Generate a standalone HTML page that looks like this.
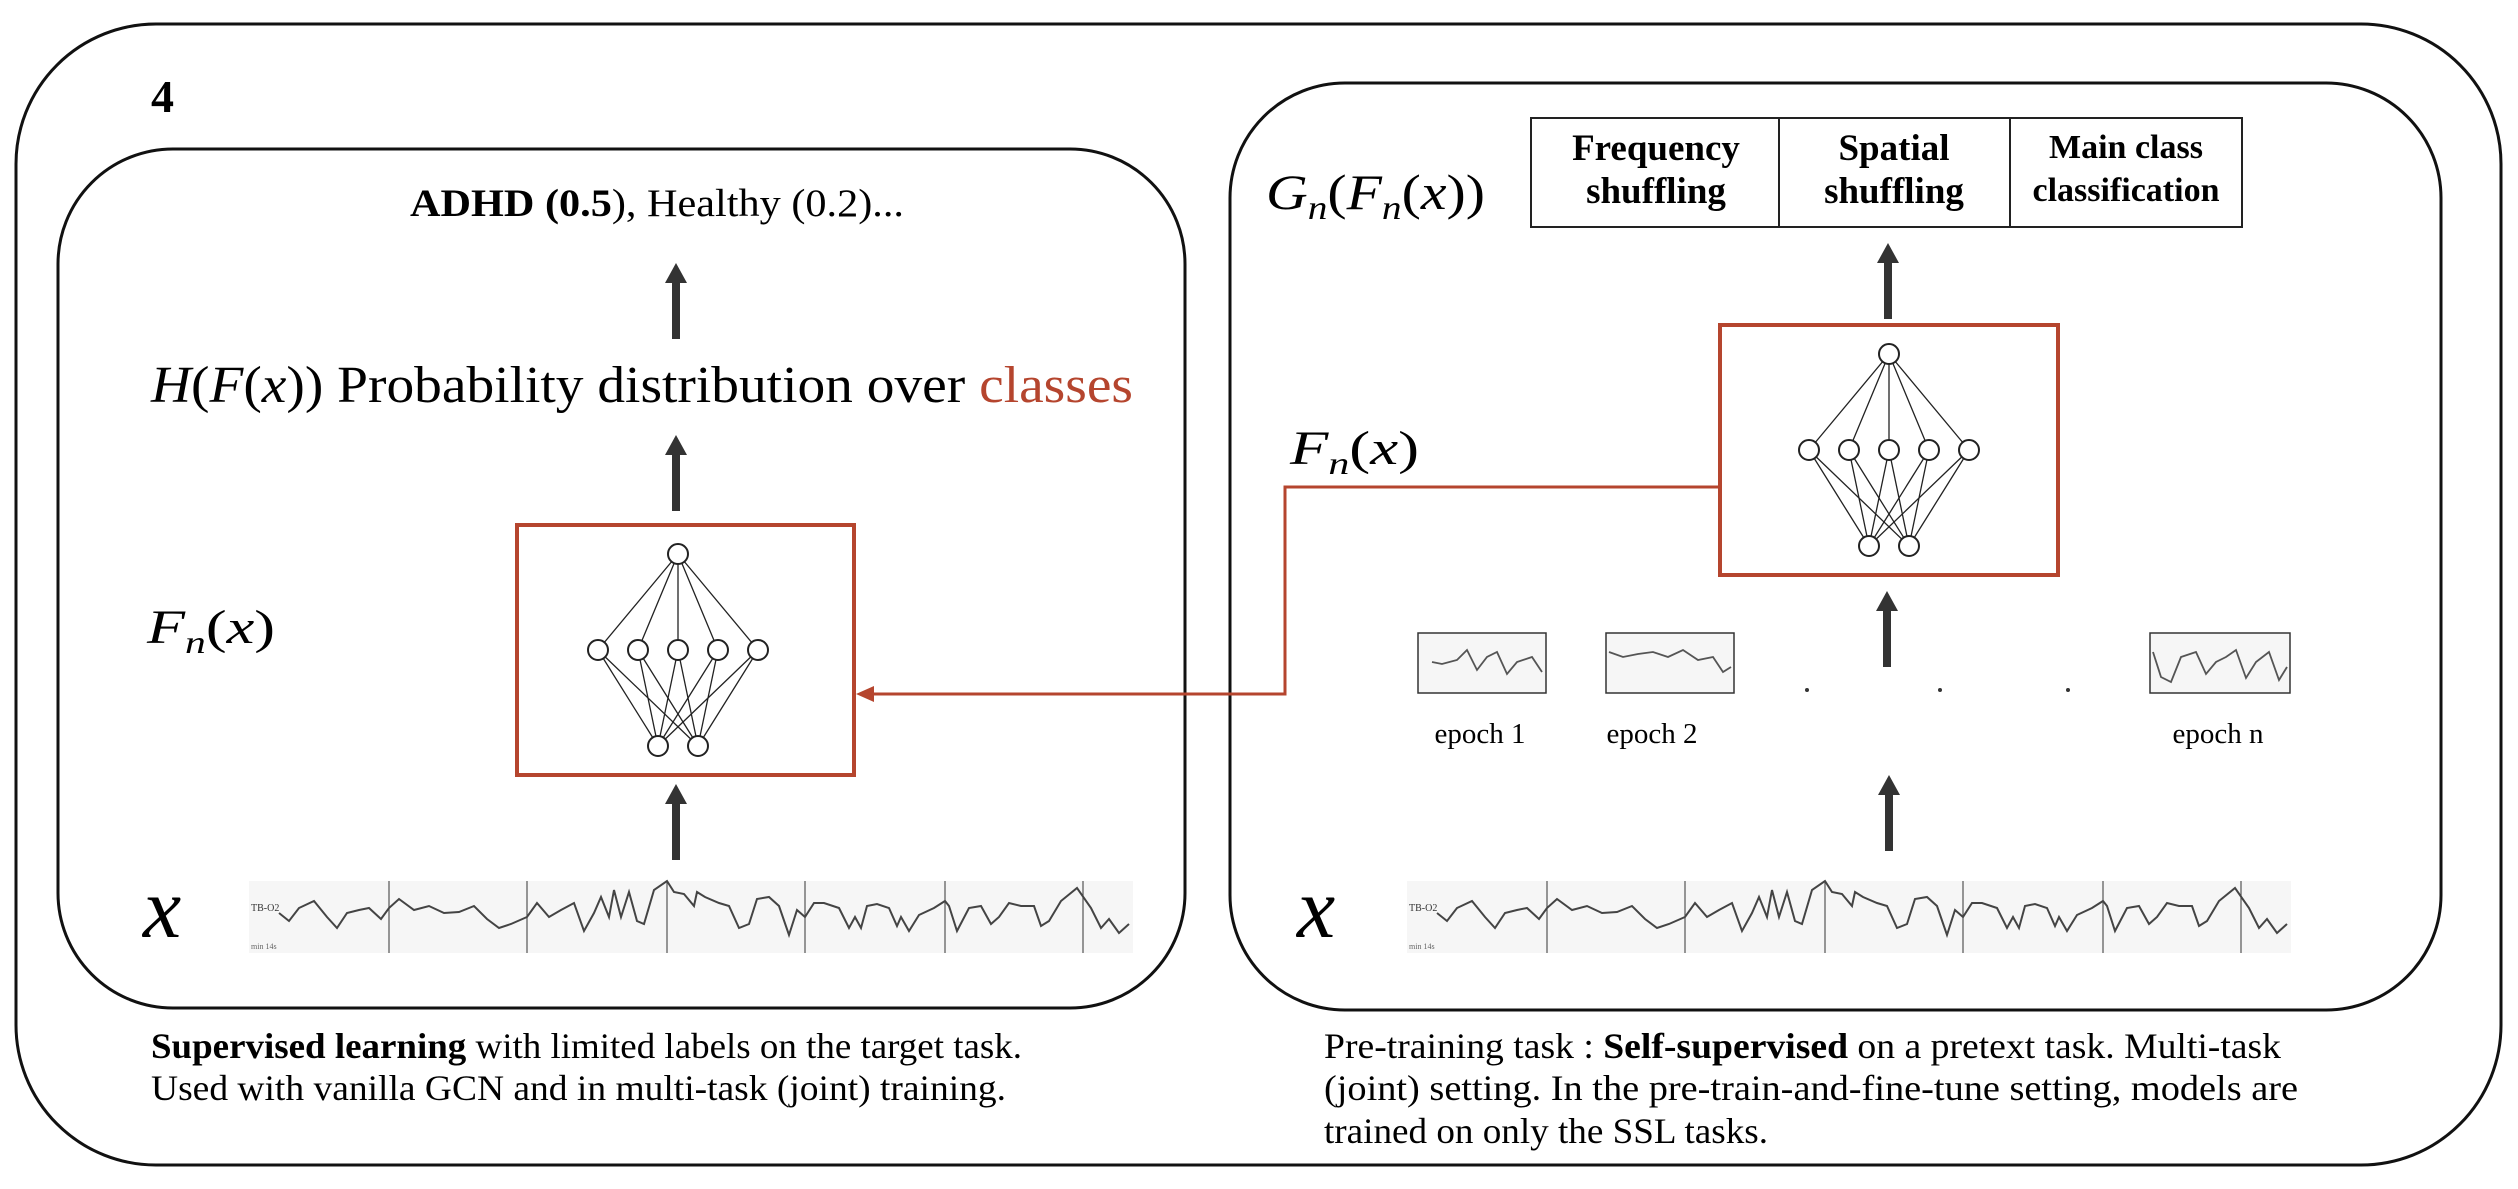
<!DOCTYPE html>
<html><head><meta charset="utf-8"><style>
html,body{margin:0;padding:0;background:#fff;}
svg{display:block;}
text{font-family:"Liberation Serif",serif;}
</style></head><body>
<svg width="2518" height="1189" viewBox="0 0 2518 1189" xmlns="http://www.w3.org/2000/svg">
<defs>
<g id="net">
<g stroke="#222" stroke-width="1.3" fill="none">
<line x1="0" y1="0" x2="-80" y2="96"/><line x1="0" y1="0" x2="-40" y2="96"/><line x1="0" y1="0" x2="0" y2="96"/><line x1="0" y1="0" x2="40" y2="96"/><line x1="0" y1="0" x2="80" y2="96"/>
<line x1="-20" y1="192" x2="-80" y2="96"/><line x1="-20" y1="192" x2="-40" y2="96"/><line x1="-20" y1="192" x2="0" y2="96"/><line x1="-20" y1="192" x2="40" y2="96"/><line x1="-20" y1="192" x2="80" y2="96"/>
<line x1="20" y1="192" x2="-80" y2="96"/><line x1="20" y1="192" x2="-40" y2="96"/><line x1="20" y1="192" x2="0" y2="96"/><line x1="20" y1="192" x2="40" y2="96"/><line x1="20" y1="192" x2="80" y2="96"/>
</g>
<g stroke="#222" stroke-width="2" fill="#fff">
<circle cx="0" cy="0" r="10"/>
<circle cx="-80" cy="96" r="10"/><circle cx="-40" cy="96" r="10"/><circle cx="0" cy="96" r="10"/><circle cx="40" cy="96" r="10"/><circle cx="80" cy="96" r="10"/>
<circle cx="-20" cy="192" r="10"/><circle cx="20" cy="192" r="10"/>
</g>
</g>
<g id="eeg">
<rect x="0" y="0" width="884" height="72" fill="#f6f6f6"/>
<g stroke="#555" stroke-width="1.2">
<line x1="140" y1="0" x2="140" y2="72"/><line x1="278" y1="0" x2="278" y2="72"/><line x1="418" y1="0" x2="418" y2="72"/><line x1="556" y1="0" x2="556" y2="72"/><line x1="696" y1="0" x2="696" y2="72"/><line x1="834" y1="0" x2="834" y2="72"/>
</g>
<polyline fill="none" stroke="#444" stroke-width="2" points="30,32 40,40 50,27 65,20 78,36 88,47 98,32 110,29 120,27 132,38 140,27 150,18 165,29 180,25 195,32 210,31 225,25 238,38 250,47 262,43 278,36 288,22 300,36 312,29 325,22 335,50 345,32 352,16 360,36 365,9 372,36 380,11 388,40 395,43 405,9 418,0 425,11 435,13 445,25 448,11 456,16 470,22 480,25 490,47 500,43 508,18 520,16 530,25 540,54 548,29 556,36 565,22 575,22 590,27 600,47 606,36 612,47 618,25 628,23 640,27 648,45 652,36 660,50 670,34 685,27 696,20 700,25 708,50 720,27 732,25 742,43 750,36 760,22 772,25 785,25 792,45 800,40 812,20 828,7 842,27 852,47 860,38 870,52 880,43"/>
<text x="2" y="30" font-size="10" fill="#333" font-family="Liberation Sans,sans-serif">TB-O2</text>
<text x="2" y="68" font-size="8" fill="#666" font-family="Liberation Sans,sans-serif">min 14s</text>
</g>
<g id="arr"><rect x="-4" y="14" width="8" height="60" fill="#333"/><polygon points="-11,18 0,-2 11,18" fill="#333"/></g>
</defs>

<rect x="16" y="24" width="2485" height="1141" rx="140" ry="140" fill="none" stroke="#111" stroke-width="3"/>
<text x="151" y="112" font-size="46" font-weight="bold">4</text>

<rect x="58" y="149" width="1127" height="859" rx="115" ry="115" fill="none" stroke="#111" stroke-width="3"/>
<rect x="1230" y="83" width="1211" height="927" rx="115" ry="115" fill="none" stroke="#111" stroke-width="3"/>

<!-- left panel -->
<text x="410" y="216" font-size="39" textLength="494" lengthAdjust="spacingAndGlyphs"><tspan font-weight="bold">ADHD (0.5</tspan>), Healthy (0.2)...</text>
<use href="#arr" x="676" y="265"/>
<text x="151" y="402" font-size="52" textLength="982" lengthAdjust="spacingAndGlyphs"><tspan font-style="italic">H</tspan>(<tspan font-style="italic">F</tspan>(<tspan font-style="italic">x</tspan>)) Probability distribution over <tspan fill="#b5452e">classes</tspan></text>
<use href="#arr" x="676" y="437"/>
<rect x="517" y="525" width="337" height="250" fill="none" stroke="#b5452e" stroke-width="4"/>
<use href="#net" x="678" y="554"/>
<text x="147" y="643" font-size="48" font-style="italic" textLength="128" lengthAdjust="spacingAndGlyphs">F<tspan font-size="32" dy="10">n</tspan><tspan dy="-10" font-style="normal">(</tspan>x<tspan font-style="normal">)</tspan></text>
<use href="#arr" x="676" y="786"/>
<text x="143" y="937" font-size="86" font-style="italic">x</text>
<use href="#eeg" x="249" y="881"/>
<text x="151" y="1058" font-size="36" textLength="871" lengthAdjust="spacingAndGlyphs"><tspan font-weight="bold">Supervised learning</tspan> with limited labels on the target task.</text>
<text x="151" y="1100" font-size="36" textLength="855" lengthAdjust="spacingAndGlyphs">Used with vanilla GCN and in multi-task (joint) training.</text>

<!-- connector -->
<polyline points="1720,487 1285,487 1285,694 870,694" fill="none" stroke="#b5452e" stroke-width="3"/>
<polygon points="856,694 874,686 874,702" fill="#b5452e"/>

<!-- right panel -->
<text x="1266" y="209" font-size="50" font-style="italic" textLength="219" lengthAdjust="spacingAndGlyphs">G<tspan font-size="34" dy="10">n</tspan><tspan dy="-10" font-style="normal">(</tspan>F<tspan font-size="34" dy="10">n</tspan><tspan dy="-10" font-style="normal">(</tspan>x<tspan font-style="normal">))</tspan></text>
<rect x="1531" y="118" width="711" height="109" fill="none" stroke="#222" stroke-width="2"/>
<line x1="1779" y1="118" x2="1779" y2="227" stroke="#222" stroke-width="2"/>
<line x1="2010" y1="118" x2="2010" y2="227" stroke="#222" stroke-width="2"/>
<g font-size="37" font-weight="bold" text-anchor="middle">
<text x="1656" y="160">Frequency</text><text x="1656" y="203">shuffling</text>
<text x="1894" y="160">Spatial</text><text x="1894" y="203">shuffling</text>
<text x="2126" y="158" font-size="34">Main class</text><text x="2126" y="201" font-size="34">classification</text>
</g>
<use href="#arr" x="1888" y="245"/>
<rect x="1720" y="325" width="338" height="250" fill="none" stroke="#b5452e" stroke-width="4"/>
<use href="#net" x="1889" y="354"/>
<text x="1290" y="464" font-size="48" font-style="italic" textLength="129" lengthAdjust="spacingAndGlyphs">F<tspan font-size="32" dy="10">n</tspan><tspan dy="-10" font-style="normal">(</tspan>x<tspan font-style="normal">)</tspan></text>

<g stroke="#333" stroke-width="1.5" fill="#f6f6f6">
<rect x="1418" y="633" width="128" height="60"/><rect x="1606" y="633" width="128" height="60"/><rect x="2150" y="633" width="140" height="60"/>
</g>
<polyline fill="none" stroke="#555" stroke-width="1.8" points="1432,662 1442,664 1457,660 1467,650 1477,670 1487,657 1497,652 1507,674 1517,662 1532,657 1542,672"/>
<polyline fill="none" stroke="#555" stroke-width="1.8" points="1609,652 1623,657 1638,654 1653,652 1668,657 1683,650 1698,660 1713,657 1723,672 1731,667"/>
<polyline fill="none" stroke="#555" stroke-width="1.8" points="2153,652 2161,677 2171,682 2181,657 2196,652 2206,674 2216,662 2226,657 2236,650 2246,678 2256,662 2269,652 2279,680 2287,667"/>
<g fill="#333"><circle cx="1807" cy="690" r="2"/><circle cx="1940" cy="690" r="2"/><circle cx="2068" cy="690" r="2"/></g>
<use href="#arr" x="1887" y="593"/>
<g font-size="29" text-anchor="middle"><text x="1480" y="743">epoch 1</text><text x="1652" y="743">epoch 2</text><text x="2218" y="743">epoch n</text></g>
<use href="#arr" x="1889" y="777"/>
<text x="1297" y="937" font-size="86" font-style="italic">x</text>
<use href="#eeg" x="1407" y="881"/>
<text x="1324" y="1058" font-size="36" textLength="957" lengthAdjust="spacingAndGlyphs">Pre-training task : <tspan font-weight="bold">Self-supervised</tspan> on a pretext task. Multi-task</text>
<text x="1324" y="1100" font-size="36" textLength="974" lengthAdjust="spacingAndGlyphs">(joint) setting. In the pre-train-and-fine-tune setting, models are</text>
<text x="1324" y="1143" font-size="36" textLength="444" lengthAdjust="spacingAndGlyphs">trained on only the SSL tasks.</text>
</svg>
</body></html>
